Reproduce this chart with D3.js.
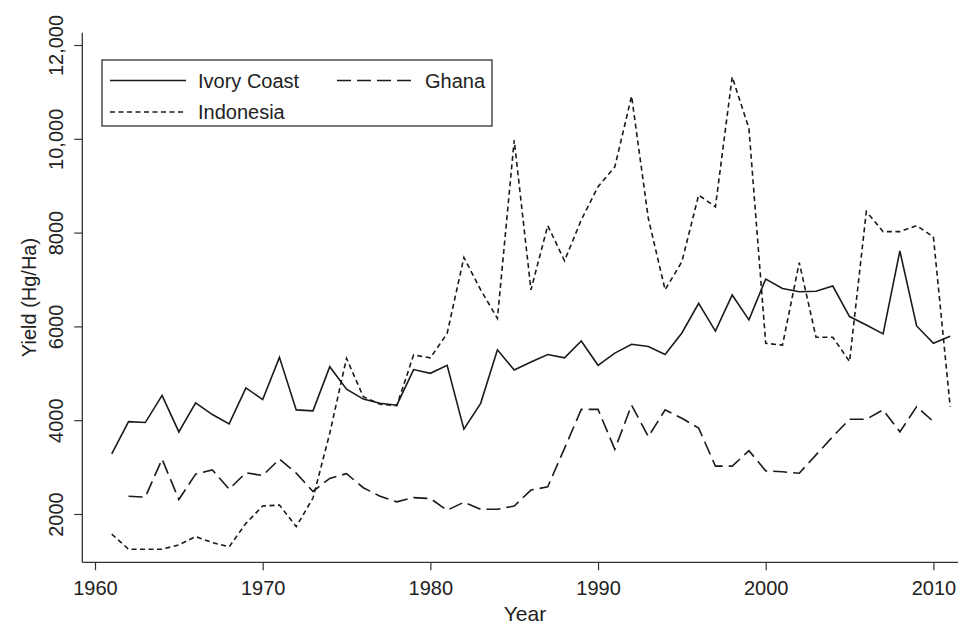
<!DOCTYPE html>
<html><head><meta charset="utf-8">
<script src="https://cdn.jsdelivr.net/npm/d3@7"></script>
<style>body{margin:0;background:#fff}svg{display:block}text{font-family:"Liberation Sans",Arial,sans-serif;fill:#222}</style>
</head><body>
<svg id="c" width="960" height="627"></svg>
<script>
const years = d3.range(1961, 2012);
const ivoryCoast = [3280,3970,3950,4530,3750,4370,4120,3920,4690,4440,5340,4220,4200,5140,4660,4450,4360,
  4320,5080,5000,5170,3810,4360,5500,5070,5240,5400,5330,5690,5170,5430,5620,5570,5400,5860,6490,5900,6670,6140,
  7010,6810,6740,6750,6860,6210,6030,5840,7610,6010,5640,5790];
const ghanaYears = d3.range(1962, 2011);
const ghana = [2380,2360,3170,2310,2850,2940,2530,2880,2820,3170,2870,2480,2760,2860,2560,2380,
  2260,2350,2330,2080,2250,2100,2100,2170,2510,2580,3400,4230,4230,3380,4320,3650,4220,4040,3830,3020,3020,3350,
  2920,2900,2870,3260,3650,4020,4020,4220,3750,4290,3970];
const indonesia = [1570,1250,1250,1250,1340,1520,1390,1300,1800,2170,2190,1730,2340,3720,5320,4500,4340,
  4310,5390,5330,5850,7470,6780,6170,9970,6780,8150,7400,8270,8980,9400,10910,8300,6780,7380,8800,8550,11320,10220,
  5640,5600,7360,5770,5770,5250,8450,8020,8020,8150,7910,4290];
const yTicks = [2000,4000,6000,8000,10000,12000];
const xTicks = [1960,1970,1980,1990,2000,2010];
const seriesNames = ["Ivory Coast","Ghana","Indonesia"];

const svg = d3.select("#c");
const x = d3.scaleLinear().domain([1960,2010]).range([95,933.4]);
const y = d3.scaleLinear().domain([2000,12000]).range([514,45]);
const axisColor = "#333";
const xLeft = 82.3, xRight = 958, yBottom = 562.3, yTop = 32.7;

svg.append("line").attr("x1",xLeft).attr("x2",xLeft).attr("y1",yTop).attr("y2",yBottom)
  .attr("stroke",axisColor).attr("stroke-width",1.3);
svg.append("line").attr("x1",xLeft).attr("x2",xRight).attr("y1",yBottom).attr("y2",yBottom)
  .attr("stroke",axisColor).attr("stroke-width",1.3);

const yAxis = d3.axisLeft(y).tickValues(yTicks).tickSize(8).tickFormat(d => d >= 10000 ? d3.format(",")(d) : String(d));
const gy = svg.append("g").attr("transform",`translate(${xLeft},0)`).call(yAxis);
gy.select(".domain").remove();
gy.selectAll(".tick line").attr("stroke",axisColor).attr("stroke-width",1.2);
gy.selectAll(".tick text").attr("x",null).attr("dy",null).attr("text-anchor","middle")
  .attr("transform","translate(-19.5,0) rotate(-90)").style("font-size","20px").attr("fill","#222");

const xAxis = d3.axisBottom(x).tickValues(xTicks).tickSize(8).tickFormat(d3.format("d"));
const gx = svg.append("g").attr("transform",`translate(0,${yBottom})`).call(xAxis);
gx.select(".domain").remove();
gx.selectAll(".tick line").attr("stroke",axisColor).attr("stroke-width",1.2);
gx.selectAll(".tick text").attr("y",33).attr("dy",null).style("font-size","20px").attr("fill","#222");

svg.append("text").attr("x",525).attr("y",621).attr("text-anchor","middle").style("font-size","21px").text("Year");
svg.append("text").attr("transform","translate(36,297.5) rotate(-90)").attr("text-anchor","middle")
  .style("font-size","20px").text("Yield (Hg/Ha)");

const line = d3.line().x(d => x(d[0])).y(d => y(d[1]));
const styles = {
  "Ivory Coast": null,
  "Ghana": "14,6",
  "Indonesia": "5,3.5"
};
const data = {
  "Ivory Coast": years.map((yr,i) => [yr, ivoryCoast[i]]),
  "Ghana": ghanaYears.map((yr,i) => [yr, ghana[i]]),
  "Indonesia": years.map((yr,i) => [yr, indonesia[i]])
};
seriesNames.forEach(n => {
  svg.append("path").datum(data[n]).attr("d",line).attr("fill","none")
    .attr("stroke","#1a1a1a").attr("stroke-width",1.6).attr("stroke-linejoin","miter")
    .attr("stroke-dasharray",styles[n]);
});

const lg = svg.append("g");
lg.append("rect").attr("x",102).attr("y",60).attr("width",390).attr("height",66)
  .attr("fill","#fff").attr("stroke",axisColor).attr("stroke-width",1.3);
const legItems = [
  {name:"Ivory Coast", lx:110, ly:80.5},
  {name:"Ghana", lx:337, ly:80.5},
  {name:"Indonesia", lx:110, ly:112}
];
legItems.forEach(it => {
  lg.append("line").attr("x1",it.lx).attr("x2",it.lx+76).attr("y1",it.ly).attr("y2",it.ly)
    .attr("stroke","#1a1a1a").attr("stroke-width",1.6).attr("stroke-dasharray",styles[it.name]);
  lg.append("text").attr("x",it.lx+88).attr("y",it.ly+7).style("font-size","20px").text(it.name);
});
</script>
</body></html>
